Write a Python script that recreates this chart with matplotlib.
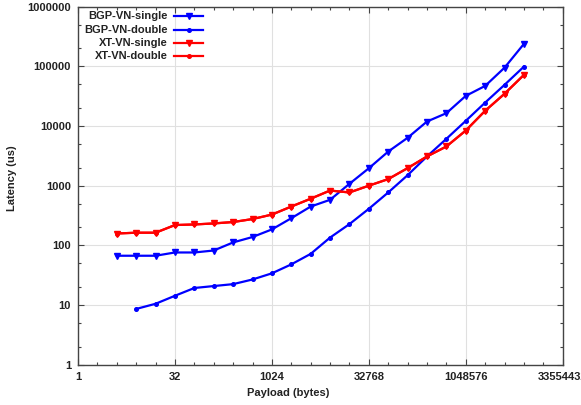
import numpy as np
import matplotlib.pyplot as plt
from matplotlib.ticker import FixedLocator, FixedFormatter, NullFormatter

plt.rcParams['font.family'] = ['Liberation Sans', 'DejaVu Sans']
plt.rcParams['font.weight'] = 'bold'
plt.rcParams['font.size'] = 8

# payload sizes are powers of two (bytes)
exp_single = np.arange(2, 24)
exp_double = np.arange(3, 24)
payload_single = 2.0 ** exp_single
payload_double = 2.0 ** exp_double

# latency in microseconds
bgp_single = [67, 67, 67, 76, 76, 82, 112, 138, 185, 285, 447, 580, 1075, 1960,
              3730, 6350, 11900, 16400, 32000, 47000, 95000, 238000]
bgp_double = [8.6, 10.5, 14.3, 19.3, 20.8, 22.4, 26.8, 34, 48, 72, 135, 227, 410,
              770, 1500, 3090, 6100, 12200, 24700, 49000, 99000]
xt_single = [158, 163, 163, 219, 224, 233, 246, 276, 328, 447, 605, 830, 770, 1000,
             1290, 1970, 3090, 4540, 8400, 18000, 34700, 72000]
xt_double = [158, 163, 163, 219, 224, 233, 246, 276, 328, 447, 605, 830, 770, 1000,
             1290, 1970, 3090, 4540, 8400, 18000, 34700, 72000]

labels = ['BGP-VN-single', 'BGP-VN-double', 'XT-VN-single', 'XT-VN-double']
xs = [payload_single, payload_double, payload_single, payload_single]
ys = [bgp_single, bgp_double, xt_single, xt_double]
colors = ['#0000ff', '#0000ff', '#ff0000', '#ff0000']
markers = ['v', 'o', 'v', 'o']
msizes = [4.5, 2.6, 4.5, 2.6]

fig = plt.figure(figsize=(5.81, 4.05), dpi=100)
ax = fig.add_axes([0.1343, 0.0995, 0.8342, 0.884])

# XT double sits under XT single, so draw it first
for i in [0, 1, 3, 2]:
    ax.plot(xs[i], ys[i], color=colors[i], marker=markers[i], markersize=msizes[i],
            linewidth=1.6, zorder=3)

ax.set_xscale('log', base=2)
ax.set_yscale('log')
ax.set_xlim(1, 2 ** 25)
ax.set_ylim(1, 1e6)

xmaj = [2 ** k for k in range(0, 26, 5)]
ax.xaxis.set_major_locator(FixedLocator(xmaj))
ax.xaxis.set_major_formatter(FixedFormatter([str(v) for v in xmaj]))
ax.xaxis.set_minor_locator(FixedLocator([2 ** k for k in range(26)]))
ax.xaxis.set_minor_formatter(NullFormatter())

ymaj = [10 ** k for k in range(7)]
ax.yaxis.set_major_locator(FixedLocator(ymaj))
ax.yaxis.set_major_formatter(FixedFormatter([str(v) for v in ymaj]))
ax.yaxis.set_minor_locator(FixedLocator([m * 10 ** k for k in range(6) for m in (2, 5)]))
ax.yaxis.set_minor_formatter(NullFormatter())

ax.tick_params(which='both', direction='in', top=True, right=True, color='#444444')
ax.tick_params(which='major', length=4.5, width=0.8, pad=5)
ax.tick_params(which='minor', length=2.5, width=0.8)
ax.grid(True, which='major', color='#e0e0e0', linewidth=0.8)
ax.set_axisbelow(True)
for sp in ax.spines.values():
    sp.set_color('#444444')
    sp.set_linewidth(1.0)

for lab in ax.get_xticklabels() + ax.get_yticklabels():
    lab.set_fontweight('bold')
    lab.set_color('#222222')

ax.set_xlabel('Payload (bytes)', fontweight='bold', color='#222222')
ax.xaxis.set_label_coords(0.434, -0.065)
ax.set_ylabel('Latency (us)', fontweight='bold', color='#222222')
ax.yaxis.set_label_coords(-0.125, 0.52)

# legend in the gnuplot style: right-aligned text followed by a line sample
rows = [0.974, 0.935, 0.898, 0.863]
for i, ypos in enumerate(rows):
    ax.text(0.1857, ypos, labels[i], transform=ax.transAxes, ha='right',
            va='center', fontweight='bold', color='#222222')
    ax.plot([0.198, 0.228, 0.258], [ypos] * 3, transform=ax.transAxes,
            color=colors[i], marker=markers[i], markersize=msizes[i],
            markevery=[1], linewidth=1.6, clip_on=False)

fig.savefig('out.png', dpi=100)
